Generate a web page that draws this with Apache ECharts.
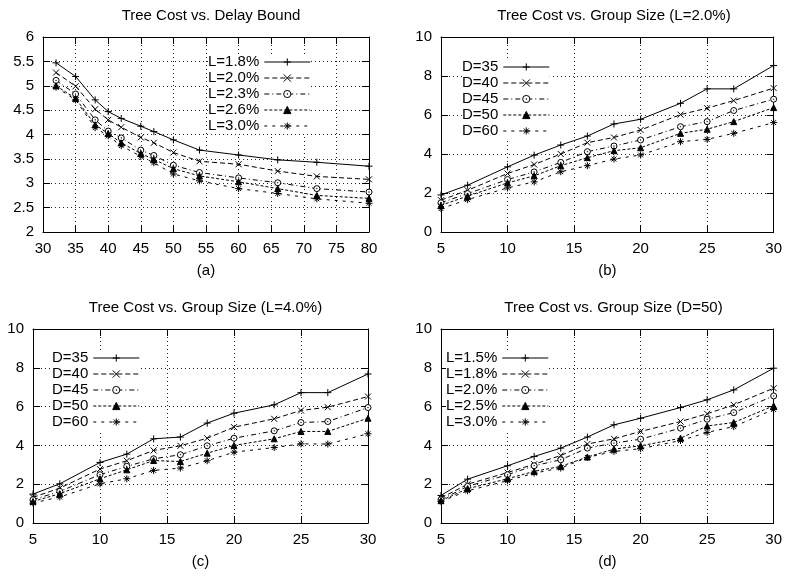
<!DOCTYPE html>
<html>
<head>
<meta charset="utf-8">
<script src="https://cdn.jsdelivr.net/npm/echarts@6.0.0/dist/echarts.min.js"></script>
<style>
  html, body { margin: 0; padding: 0; background: #fff; }
  #chart { width: 785px; height: 576px; }
</style>
</head>
<body>
<div id="chart"></div>
<script>
// x values
const delayBounds = [32, 35, 38, 40, 42, 45, 47, 50, 54, 60, 66, 72, 80];
const groupSizes = [5, 7, 10, 12, 14, 16, 18, 20, 23, 25, 27, 30];

// (a) tree cost vs. delay bound
const namesA = ["L=1.8%", "L=2.0%", "L=2.3%", "L=2.6%", "L=3.0%"];
const costA_L18 = [5.47, 5.19, 4.71, 4.47, 4.33, 4.17, 4.06, 3.89, 3.68, 3.58, 3.48, 3.43, 3.35];
const costA_L20 = [5.27, 4.99, 4.52, 4.30, 4.15, 3.94, 3.83, 3.63, 3.45, 3.39, 3.25, 3.14, 3.08];
const costA_L23 = [5.11, 4.83, 4.30, 4.07, 3.93, 3.68, 3.57, 3.37, 3.22, 3.11, 3.01, 2.89, 2.82];
const costA_L26 = [5.00, 4.74, 4.20, 4.02, 3.83, 3.61, 3.49, 3.30, 3.15, 3.03, 2.89, 2.75, 2.69];
const costA_L30 = [4.97, 4.71, 4.14, 3.97, 3.77, 3.55, 3.42, 3.19, 3.05, 2.89, 2.79, 2.68, 2.59];

// (b) tree cost vs. group size, L=2.0%
const namesB = ["D=35", "D=40", "D=45", "D=50", "D=60"];
const costB_D35 = [1.90, 2.40, 3.34, 3.94, 4.46, 4.92, 5.54, 5.78, 6.60, 7.34, 7.34, 8.54];
const costB_D40 = [1.63, 2.14, 3.00, 3.46, 4.00, 4.58, 4.85, 5.23, 6.02, 6.35, 6.74, 7.38];
const costB_D45 = [1.50, 1.97, 2.69, 3.08, 3.57, 4.12, 4.41, 4.72, 5.40, 5.66, 6.23, 6.81];
const costB_D50 = [1.37, 1.84, 2.52, 2.88, 3.40, 3.81, 4.17, 4.32, 5.06, 5.27, 5.66, 6.38];
const costB_D60 = [1.20, 1.66, 2.26, 2.57, 3.09, 3.40, 3.74, 3.95, 4.63, 4.75, 5.06, 5.61];

// (c) tree cost vs. group size, L=4.0%
const namesC = ["D=35", "D=40", "D=45", "D=50", "D=60"];
const costC_D35 = [1.49, 2.02, 3.12, 3.55, 4.34, 4.43, 5.15, 5.66, 6.09, 6.72, 6.72, 7.68];
const costC_D40 = [1.32, 1.80, 2.78, 3.21, 3.74, 3.98, 4.37, 4.94, 5.37, 5.80, 5.97, 6.52];
const costC_D45 = [1.20, 1.63, 2.49, 2.92, 3.31, 3.52, 3.98, 4.37, 4.75, 5.18, 5.23, 5.95];
const costC_D50 = [1.11, 1.51, 2.28, 2.74, 3.22, 3.17, 3.60, 4.00, 4.34, 4.72, 4.72, 5.40];
const costC_D60 = [1.03, 1.34, 2.02, 2.28, 2.71, 2.83, 3.21, 3.65, 3.89, 4.08, 4.07, 4.60];

// (d) tree cost vs. group size, D=50
const namesD = ["L=1.5%", "L=1.8%", "L=2.0%", "L=2.5%", "L=3.0%"];
const costD_L15 = [1.42, 2.26, 2.95, 3.43, 3.86, 4.43, 5.06, 5.40, 5.95, 6.35, 6.86, 7.98];
const costD_L18 = [1.29, 2.00, 2.60, 3.03, 3.48, 4.07, 4.34, 4.72, 5.23, 5.63, 6.09, 6.95];
const costD_L20 = [1.20, 1.89, 2.49, 2.95, 3.26, 3.86, 4.12, 4.32, 4.89, 5.35, 5.69, 6.55];
const costD_L25 = [1.15, 1.77, 2.28, 2.66, 2.92, 3.40, 3.81, 3.98, 4.37, 5.00, 5.18, 6.04];
const costD_L30 = [1.11, 1.66, 2.18, 2.57, 2.83, 3.38, 3.69, 3.83, 4.25, 4.67, 4.97, 5.85];

const FONT = "Liberation Sans, Arial, sans-serif";

// gnuplot-like point types / dash styles, one per curve
const PLUS = "path://M0,5L10,5M5,0L5,10";
const CROSS = "path://M0,0L10,10M10,0L0,10";
const STAR = "path://M0,5L10,5M5,0L5,10M1.5,1.5L8.5,8.5M8.5,1.5L1.5,8.5";
const RING = "path://M10,5A5,5,0,1,1,0,5A5,5,0,1,1,10,5ZM5.5,5A0.5,0.5,0,1,1,4.5,5A0.5,0.5,0,1,1,5.5,5Z";
const curveStyles = [
  { symbol: PLUS, dash: "solid", size: 7, fill: "#000" },
  { symbol: CROSS, dash: [5, 3], size: 6, fill: "#000" },
  { symbol: RING, dash: [5, 3, 1, 3], size: 6, fill: "#fff" },
  { symbol: "triangle", dash: [3, 2], size: 6, fill: "#000" },
  { symbol: STAR, dash: [3, 5], size: 7, fill: "#000" },
];

const panels = [
  {
    key: "a", title: "Tree Cost vs. Delay Bound", caption: "(a)",
    grid: { left: 43, top: 37, width: 326, height: 195 },
    xs: delayBounds, xMin: 30, xMax: 80, xStep: 5,
    yMin: 2, yMax: 6, yStep: 0.5,
    names: namesA, values: [costA_L18, costA_L20, costA_L23, costA_L26, costA_L30],
    legend: { left: 208, top: 54 },
  },
  {
    key: "b", title: "Tree Cost vs. Group Size (L=2.0%)", caption: "(b)",
    grid: { left: 441, top: 37, width: 336, height: 195 },
    xs: groupSizes, xMin: 5, xMax: 30, xStep: 5,
    yMin: 0, yMax: 10, yStep: 2,
    names: namesB, values: [costB_D35, costB_D40, costB_D45, costB_D50, costB_D60],
    legend: { left: 462, top: 59 },
  },
  {
    key: "c", title: "Tree Cost vs. Group Size (L=4.0%)", caption: "(c)",
    grid: { left: 33, top: 329, width: 335, height: 194 },
    xs: groupSizes, xMin: 5, xMax: 30, xStep: 5,
    yMin: 0, yMax: 10, yStep: 2,
    names: namesC, values: [costC_D35, costC_D40, costC_D45, costC_D50, costC_D60],
    legend: { left: 52, top: 350 },
  },
  {
    key: "d", title: "Tree Cost vs. Group Size (D=50)", caption: "(d)",
    grid: { left: 441, top: 329, width: 335, height: 194 },
    xs: groupSizes, xMin: 5, xMax: 30, xStep: 5,
    yMin: 0, yMax: 10, yStep: 2,
    names: namesD, values: [costD_L15, costD_L18, costD_L20, costD_L25, costD_L30],
    legend: { left: 446, top: 350 },
  },
];

const black = "#000";
const tick = { show: true, inside: true, length: 7, lineStyle: { color: black, width: 1 } };
const axisLine = { show: true, onZero: false, lineStyle: { color: black, width: 1 } };
const gridLine = { show: true, lineStyle: { color: "#222", width: 1, type: [1, 3] } };

const option = {
  backgroundColor: "#fff",
  animation: false,
  title: [], grid: [], xAxis: [], yAxis: [], legend: [], series: [],
};

panels.forEach((p, i) => {
  option.grid.push(p.grid);
  option.title.push({
    text: p.title,
    left: p.grid.left + p.grid.width / 2,
    top: p.grid.top - 34,
    textAlign: "center",
    textStyle: { fontFamily: FONT, fontSize: 15, fontWeight: "normal", color: black },
  });

  const xBase = { type: "value", gridIndex: i, min: p.xMin, max: p.xMax, interval: p.xStep,
                  axisLine, axisTick: tick };
  const yBase = { type: "value", gridIndex: i, min: p.yMin, max: p.yMax, interval: p.yStep,
                  axisLine, axisTick: tick };

  // bottom / left axes with labels and grid
  option.xAxis.push(Object.assign({}, xBase, {
    position: "bottom",
    name: p.caption, nameLocation: "middle", nameGap: 31,
    nameTextStyle: { fontFamily: FONT, fontSize: 15, color: black },
    axisLabel: { fontFamily: FONT, fontSize: 15, color: black, margin: 9 },
    splitLine: gridLine,
  }));
  option.yAxis.push(Object.assign({}, yBase, {
    position: "left",
    axisLabel: { fontFamily: FONT, fontSize: 15, color: black, margin: 9 },
    splitLine: gridLine,
  }));
  // mirrored top / right axes (ticks only)
  option.xAxis.push(Object.assign({}, xBase, {
    position: "top", axisLabel: { show: false }, splitLine: { show: false },
  }));
  option.yAxis.push(Object.assign({}, yBase, {
    position: "right", axisLabel: { show: false }, splitLine: { show: false },
  }));

  const ids = p.names.map((n) => p.key + "|" + n);
  option.legend.push({
    data: ids,
    orient: "vertical",
    align: "right",
    left: p.legend.left, top: p.legend.top,
    padding: 0, itemGap: 0,
    itemWidth: 46, itemHeight: 9,
    backgroundColor: "#fff",
    selectedMode: false,
    formatter: (name) => name.split("|")[1],
    itemStyle: { borderWidth: 1 },
    lineStyle: { width: 1 },
    textStyle: { fontFamily: FONT, fontSize: 15, lineHeight: 16, color: black },
  });

  p.values.forEach((vals, k) => {
    const st = curveStyles[k];
    option.series.push({
      name: ids[k],
      type: "line",
      xAxisIndex: 2 * i, yAxisIndex: 2 * i,
      data: p.xs.map((x, j) => [x, vals[j]]),
      symbol: st.symbol, symbolSize: st.size, showAllSymbol: true,
      itemStyle: { color: st.fill, borderColor: black, borderWidth: 1 },
      lineStyle: { color: black, width: 1, type: st.dash },
      emphasis: { disabled: true },
    });
  });
});

const chart = echarts.init(document.getElementById("chart"), null, { renderer: "canvas" });
chart.setOption(option);
</script>
</body>
</html>
